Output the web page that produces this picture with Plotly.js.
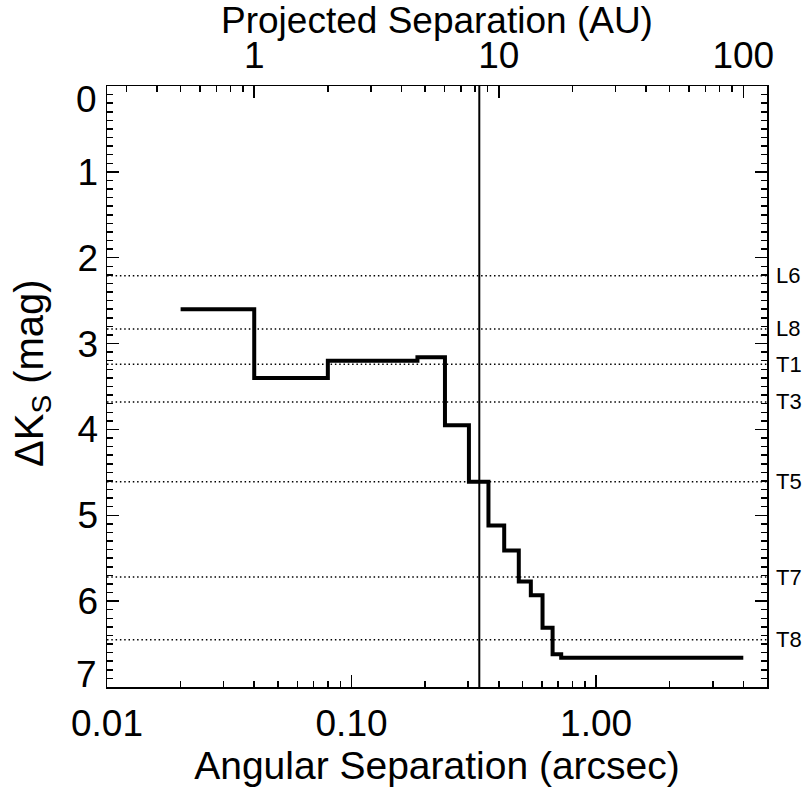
<!DOCTYPE html>
<html><head><meta charset="utf-8">
<script src="https://cdn.plot.ly/plotly-3.0.1.min.js"></script>
<style>html,body{margin:0;padding:0;background:#fff}#chart{width:809px;height:793px}</style>
</head><body><div id="chart"></div>
<script>
// Contrast curve: start of each separation bin (arcsec) and the ΔKs limit (mag)
const sepArcsec = [0.02, 0.04, 0.08, 0.186, 0.241, 0.302, 0.363, 0.421, 0.483, 0.541, 0.604, 0.664, 0.720, 4.0];
const dKs       = [2.60, 3.40, 3.20, 3.16, 3.95, 4.61, 5.12, 5.41, 5.77, 5.93, 6.31, 6.62, 6.66, 6.66];

// Spectral-type reference levels (ΔKs)
const spTypes   = ['L6', 'L8', 'T1', 'T3', 'T5', 'T7', 'T8'];
const spDeltaK  = [2.21, 2.83, 3.24, 3.68, 4.61, 5.72, 6.45];

// Vertical marker separation (arcsec)
const markerSep = [0.333];

// Distance used to convert arcsec -> AU (pc)
const distPc = 25;

// Axis ranges and ticks
const xRange      = [0.01, 5];
const yRange      = [7, 0];
const xTickVals   = [0.01, 0.1, 1];
const xTickText   = ['0.01', '0.10', '1.00'];
const xMinorVals  = [0.02,0.03,0.04,0.05,0.06,0.07,0.08,0.09,0.2,0.3,0.4,0.5,0.6,0.7,0.8,0.9,2,3,4];
const auTickVals  = [1, 10, 100];
const auTickText  = ['1', '10', '100'];
const auMinorVals = [0.3,0.4,0.5,0.6,0.7,0.8,0.9,2,3,4,5,6,7,8,9,20,30,40,50,60,70,80,90];
const yTickVals   = [0, 1, 2, 3, 4, 5, 6, 7];
const yTickText   = ['0', '1', '2', '3', '4', '5', '6', '7'];

const FONT = 'Liberation Sans, Arial, Helvetica, sans-serif';
const TC = '#000';

// dotted reference lines
const dotX = [], dotY = [];
spDeltaK.forEach(v => { dotX.push(xRange[0], xRange[1], null); dotY.push(v, v, null); });

const traces = [
  {x: dotX, y: dotY, mode: 'lines', line: {color: '#000', width: 1.5, dash: '1.5px,2.8px'}, hoverinfo: 'skip', showlegend: false},
  {x: [markerSep[0], markerSep[0]], y: [yRange[1], yRange[0]], mode: 'lines', line: {color: '#000', width: 2}, hoverinfo: 'skip', showlegend: false},
  {x: sepArcsec, y: dKs, mode: 'lines', line: {color: '#000', width: 4, shape: 'hv'}, showlegend: false},
  {x: [], y: [], xaxis: 'x2', yaxis: 'y', mode: 'lines', showlegend: false},
  {x: [], y: [], xaxis: 'x', yaxis: 'y2', mode: 'lines', showlegend: false}
];

const tickStyle = {
  ticks: 'inside', ticklen: 12, tickwidth: 1.5, tickcolor: TC,
  showline: true, linecolor: '#000', linewidth: 1.5, showgrid: false, zeroline: false
};
const minorStyle = {ticks: 'inside', ticklen: 6, tickwidth: 1.5, tickcolor: TC, showgrid: false};

// interior y tick labels come from the axis; the two end labels are nudged inside, as in the original
const yEnds = [0, yTickVals.length - 1];
const yAxisText = yTickText.map((t, i) => yEnds.includes(i) ? '' : t);
const endAnn = yEnds.map(i => ({
  xref: 'paper', x: 0, xanchor: 'right', xshift: -8,
  yref: 'y', y: yTickVals[i], yanchor: 'middle', yshift: i === 0 ? -13 : 13,
  text: yTickText[i], showarrow: false, font: {size: 37, family: FONT, color: '#000'}
}));

const yTitleAnn = {
  xref: 'paper', yref: 'paper', x: 0, y: 0.5225, xanchor: 'center', yanchor: 'middle',
  xshift: -75, textangle: -90, showarrow: false,
  text: 'ΔK<sub>S</sub> (mag)', font: {size: 40, family: FONT, color: '#000'}
};

const layout = {
  width: 809, height: 793,
  margin: {l: 107, r: 42, t: 86, b: 106},
  paper_bgcolor: '#fff', plot_bgcolor: '#fff',
  font: {family: FONT, color: '#000'},
  showlegend: false, hovermode: false,
  xaxis: Object.assign({}, tickStyle, {
    type: 'log', range: [Math.log10(xRange[0]), Math.log10(xRange[1])],
    tickmode: 'array', tickvals: xTickVals, ticktext: xTickText,
    tickfont: {size: 37, family: FONT}, ticklabelstandoff: 3,
    minor: Object.assign({tickvals: xMinorVals}, minorStyle),
    title: {text: 'Angular Separation (arcsec)', font: {size: 39, family: FONT}, standoff: 6}
  }),
  xaxis2: Object.assign({}, tickStyle, {
    type: 'log', overlaying: 'x', side: 'top', anchor: 'y',
    range: [Math.log10(xRange[0] * distPc), Math.log10(xRange[1] * distPc)],
    tickmode: 'array', tickvals: auTickVals, ticktext: auTickText,
    tickfont: {size: 37, family: FONT}, ticklabelstandoff: 2,
    minor: Object.assign({tickvals: auMinorVals}, minorStyle),
    title: {text: 'Projected Separation (AU)', font: {size: 37, family: FONT}, standoff: 0}
  }),
  yaxis: Object.assign({}, tickStyle, {
    range: yRange, tickmode: 'array', tickvals: yTickVals, ticktext: yAxisText,
    tickfont: {size: 37, family: FONT},
    minor: Object.assign({dtick: 0.1, tick0: 0}, minorStyle)
  }),
  yaxis2: Object.assign({}, tickStyle, {
    range: yRange, overlaying: 'y', side: 'right', anchor: 'x',
    tickmode: 'array', tickvals: yTickVals, showticklabels: false,
    minor: Object.assign({dtick: 0.1, tick0: 0}, minorStyle)
  }),
  annotations: spTypes.map((t, i) => ({
    xref: 'paper', x: 1, xanchor: 'left', xshift: 7,
    yref: 'y', y: spDeltaK[i], yanchor: 'middle',
    text: t, showarrow: false, font: {size: 22, family: FONT, color: '#000'}
  })).concat(endAnn, [yTitleAnn])
};

Plotly.newPlot('chart', traces, layout, {staticPlot: true, displayModeBar: false});
</script>
</body></html>
